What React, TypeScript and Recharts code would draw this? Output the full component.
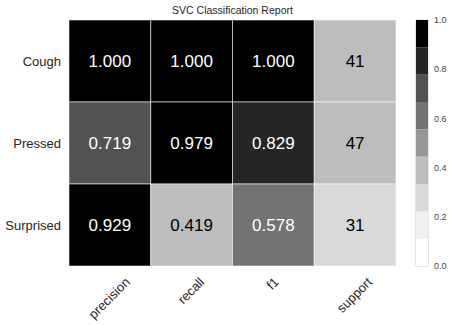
import React from 'react';
import { BarChart, Bar, XAxis, YAxis, ReferenceArea } from 'recharts';

const rows = ['Cough', 'Pressed', 'Surprised'];
const columns = ['precision', 'recall', 'f1', 'support'];
const precision = [1.0, 0.719, 0.929];
const recall = [1.0, 0.979, 0.419];
const f1 = [1.0, 0.829, 0.578];
const support = [41, 47, 31];
const colorTicks = [0, 0.2, 0.4, 0.6, 0.8, 1.0];
const greys = ['#ffffff', '#f0f0f0', '#d9d9d9', '#bdbdbd', '#969696', '#737373', '#525252', '#252525', '#000000'];

const FONT = '"Liberation Sans", Arial, sans-serif';
const W = 453;
const H = 325;

const totalSupport = support.reduce((a, b) => a + b, 0);
const metrics = [precision, recall, f1];

// colour comes from the score (support is normalised), text is what gets printed
const cellScore = (r: number, c: number) => (c === 3 ? support[r] / totalSupport : metrics[c][r]);
const cellText = (r: number, c: number) => (c === 3 ? String(support[r]) : metrics[c][r].toFixed(3));
const bin = (v: number) => Math.min(greys.length - 1, Math.floor(v * greys.length));

// every cell is one column unit wide, stacked left to right
const heatData = rows.map((row) => ({ row, c0: 1, c1: 1, c2: 1, c3: 1 }));
const cbRow: Record<string, any> = { k: 'cb' };
greys.forEach((_, i) => { cbRow[`g${i}`] = 1 / greys.length; });
const cbData = [cbRow];

let ctx: CanvasRenderingContext2D | null = null;
function textWidth(s: string, font: string) {
  if (!ctx) ctx = document.createElement('canvas').getContext('2d');
  if (!ctx) return s.length * 7;
  ctx.font = font;
  return ctx.measureText(s).width;
}

function XTick({ x, y, payload }: any) {
  const label = columns[Math.floor(payload.value)];
  const fs = 13;
  const w = textWidth(label, `${fs}px ${FONT}`);
  const asc = 0.75 * fs;
  const desc = 0.2 * fs;
  const k = Math.SQRT1_2;
  const px = x - ((desc - asc) / 2) * k;
  const py = y + (w / 2 + asc) * k;
  return (
    <text x={px} y={py} textAnchor="middle" transform={`rotate(-45 ${px} ${py})`} fontSize={fs} fontFamily={FONT} fill="#262626">
      {label}
    </text>
  );
}

function HeatCell(props: any) {
  const { x, y, width, height, payload, index, col } = props;
  const r = payload && payload.row ? rows.indexOf(payload.row) : index;
  const b = bin(cellScore(r, col));
  return (
    <g>
      <rect x={x} y={y} width={width} height={height} fill={greys[b]} stroke="#ffffff" strokeOpacity={0.55} strokeWidth={1} />
      <text x={x + width / 2} y={y + height / 2} dy="0.36em" textAnchor="middle" fontSize={17} fontFamily={FONT} fill={b >= 5 ? '#ffffff' : '#000000'}>
        {cellText(r, col)}
      </text>
    </g>
  );
}

export default function App() {
  return (
    <div style={{ position: 'absolute', left: 0, top: 0, width: W, height: H, background: '#fff' }}>
      <div style={{ position: 'absolute', left: 69, top: 4, width: 327, textAlign: 'center', fontFamily: FONT, fontSize: 10.5, lineHeight: '13px', color: '#262626' }}>
        SVC Classification Report
      </div>
      <div style={{ position: 'absolute', left: 0, top: 0 }}>
        <BarChart width={W} height={H} data={heatData} layout="vertical" margin={{ top: 20, right: 57, bottom: 0, left: 0 }} barCategoryGap={0} barGap={0}>
          <XAxis
            type="number"
            domain={[0, 4]}
            ticks={[0.5, 1.5, 2.5, 3.5]}
            height={59}
            tickSize={0}
            tickMargin={10}
            axisLine={false}
            tickLine={false}
            interval={0}
            tick={<XTick />}
          />
          <YAxis
            type="category"
            dataKey="row"
            width={69}
            axisLine={false}
            tickLine={false}
            tick={{ fontSize: 13, fill: '#262626', fontFamily: FONT }}
          />
          {columns.map((_, c) => (
            <Bar key={c} dataKey={`c${c}`} stackId="h" isAnimationActive={false} shape={(p: any) => <HeatCell {...p} col={c} />} />
          ))}
        </BarChart>
      </div>
      <div style={{ position: 'absolute', left: 0, top: 0 }}>
        <BarChart width={W} height={H} data={cbData} margin={{ top: 20, right: 0, bottom: 59, left: 416 }} barCategoryGap={0} barGap={0}>
          <XAxis dataKey="k" hide />
          <YAxis
            orientation="right"
            type="number"
            domain={[0, 1]}
            ticks={colorTicks}
            width={25}
            tickSize={4}
            tickMargin={2}
            axisLine={false}
            tickLine={false}
            tickFormatter={(v: number) => v.toFixed(1)}
            tick={{ fontSize: 9, fill: '#444444', fontFamily: FONT }}
          />
          {greys.map((g, i) => (
            <Bar key={i} dataKey={`g${i}`} stackId="cb" fill={g} isAnimationActive={false} />
          ))}
          <ReferenceArea y1={0} y2={1} fill="none" stroke="#cccccc" ifOverflow="visible" />
        </BarChart>
      </div>
    </div>
  );
}
